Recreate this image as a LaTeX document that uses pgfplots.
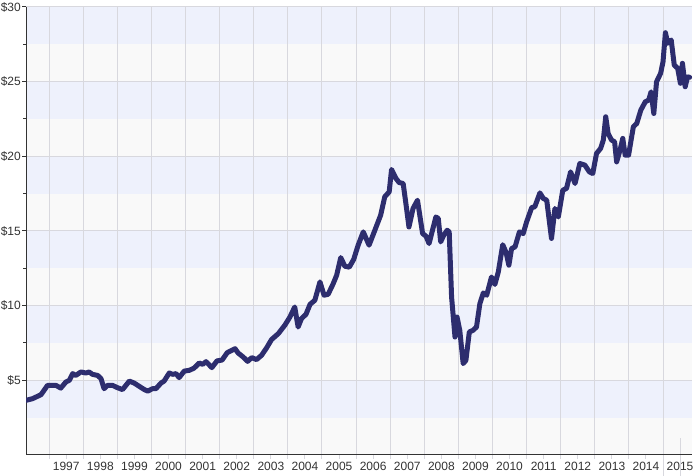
\documentclass[border=0pt]{standalone}
\usepackage{fontspec}
\setmainfont{Liberation Sans}
\usepackage{pgfplots}
\pgfplotsset{compat=1.18}
\definecolor{bandblue}{HTML}{EEF1FC}
\definecolor{bandgrey}{HTML}{F9F9F9}
\definecolor{gridgrey}{HTML}{D8D8DE}
\definecolor{navy}{HTML}{2D2D6E}
\definecolor{txt}{HTML}{333333}
\pgfplotstableread{
x y
1996.32 3.66
1996.51 3.77
1996.76 4.04
1996.85 4.33
1996.95 4.66
1997.20 4.66
1997.34 4.48
1997.49 4.89
1997.59 5.00
1997.69 5.45
1997.78 5.33
1997.93 5.56
1998.08 5.49
1998.17 5.56
1998.27 5.40
1998.42 5.33
1998.52 5.11
1998.61 4.44
1998.71 4.66
1998.86 4.66
1999.00 4.51
1999.15 4.38
1999.25 4.66
1999.35 4.95
1999.49 4.82
1999.64 4.60
1999.79 4.38
1999.89 4.28
2000.03 4.44
2000.13 4.44
2000.28 4.82
2000.37 4.95
2000.52 5.49
2000.62 5.40
2000.72 5.45
2000.81 5.18
2000.96 5.62
2001.11 5.67
2001.25 5.82
2001.40 6.16
2001.50 6.07
2001.60 6.25
2001.77 5.85
2001.92 6.30
2002.07 6.36
2002.22 6.85
2002.45 7.12
2002.54 6.83
2002.69 6.56
2002.82 6.27
2002.94 6.52
2003.08 6.39
2003.23 6.68
2003.38 7.19
2003.52 7.73
2003.72 8.13
2003.91 8.69
2004.06 9.24
2004.20 9.91
2004.30 8.57
2004.40 9.14
2004.53 9.42
2004.65 10.09
2004.79 10.36
2004.94 11.59
2005.06 10.70
2005.18 10.76
2005.33 11.48
2005.43 12.04
2005.55 13.22
2005.67 12.64
2005.80 12.58
2005.93 13.10
2006.06 14.05
2006.21 14.94
2006.38 14.05
2006.55 15.05
2006.72 16.06
2006.84 17.29
2006.97 17.62
2007.04 19.12
2007.17 18.52
2007.26 18.25
2007.38 18.18
2007.46 16.84
2007.55 15.27
2007.67 16.51
2007.80 17.06
2007.95 14.83
2008.05 14.65
2008.14 14.16
2008.24 15.05
2008.34 15.94
2008.41 15.84
2008.48 14.27
2008.57 14.72
2008.67 15.05
2008.73 14.94
2008.80 10.58
2008.90 7.90
2008.96 9.24
2009.04 8.35
2009.14 6.12
2009.22 6.34
2009.32 8.24
2009.43 8.35
2009.53 8.57
2009.63 10.14
2009.73 10.85
2009.83 10.70
2009.97 11.92
2010.07 11.42
2010.17 12.26
2010.30 14.08
2010.40 13.55
2010.48 12.71
2010.56 13.83
2010.66 13.93
2010.79 14.94
2010.90 14.83
2011.00 15.61
2011.15 16.57
2011.24 16.62
2011.39 17.55
2011.49 17.18
2011.59 17.06
2011.73 14.50
2011.83 16.51
2011.93 15.94
2012.06 17.73
2012.17 17.85
2012.29 18.96
2012.42 18.18
2012.56 19.52
2012.71 19.41
2012.84 18.96
2012.94 18.85
2013.05 20.19
2013.17 20.53
2013.25 21.09
2013.32 22.65
2013.39 21.53
2013.49 21.09
2013.58 20.97
2013.64 19.63
2013.74 20.42
2013.82 21.20
2013.89 20.08
2013.99 20.08
2014.13 21.98
2014.23 22.20
2014.35 23.10
2014.48 23.65
2014.58 23.77
2014.65 24.32
2014.73 22.87
2014.81 24.99
2014.93 25.56
2015.00 26.33
2015.07 28.28
2015.14 27.57
2015.24 27.79
2015.33 26.11
2015.43 25.89
2015.51 24.89
2015.57 26.23
2015.65 24.66
2015.72 25.32
2015.78 25.29
}\pricedata
\begin{document}
\begin{tikzpicture}
\begin{axis}[
  set layers,
  at={(26bp,21bp)}, anchor=south west,
  scale only axis, width=666bp, height=448bp,
  xmin=1996.32, xmax=2015.85, ymin=0, ymax=30,
  axis x line*=bottom, axis y line*=left,
  axis line style={-, draw=txt, line width=1bp},
  tick align=outside,
  major tick length=4bp, minor tick length=3bp,
  xtick={1997,1998,...,2015}, xticklabels={},
  x tick style={draw=gridgrey, line width=1bp, shorten <=-17bp, shorten >=-17bp},
  extra x ticks={1997.5,1998.5,1999.5,2000.5,2001.5,2002.5,2003.5,2004.5,2005.5,2006.5,2007.5,2008.5,2009.5,2010.5,2011.5,2012.5,2013.5,2014.5,2015.5},
  extra x tick labels={1997,1998,1999,2000,2001,2002,2003,2004,2005,2006,2007,2008,2009,2010,2011,2012,2013,2014,2015},
  extra x tick style={grid=none, tick style={draw=none}},
  ytick={5,10,...,30}, yticklabels={\$5,\$10,\$15,\$20,\$25,\$30},
  minor y tick num=1,
  y tick style={draw=txt, line width=1bp},
  yticklabel style={inner xsep=1bp},
  grid=major, major grid style={draw=gridgrey, line width=1bp},
  tick label style={font=\fontsize{12bp}{14bp}\selectfont, text=txt},
]
\begin{pgfonlayer}{axis background}
\fill[bandgrey] (axis cs:1996.32,0) rectangle (axis cs:2015.85,30);
\fill[bandblue] (axis cs:1996.32,27.5) rectangle (axis cs:2015.85,30);
\fill[bandblue] (axis cs:1996.32,22.5) rectangle (axis cs:2015.85,25);
\fill[bandblue] (axis cs:1996.32,17.5) rectangle (axis cs:2015.85,20);
\fill[bandblue] (axis cs:1996.32,12.5) rectangle (axis cs:2015.85,15);
\fill[bandblue] (axis cs:1996.32,7.5) rectangle (axis cs:2015.85,10);
\fill[bandblue] (axis cs:1996.32,2.5) rectangle (axis cs:2015.85,5);
\end{pgfonlayer}
\addplot[navy, line width=5bp, line join=round, line cap=round] table[x=x, y=y] {\pricedata};
\end{axis}
\pgfresetboundingbox
\useasboundingbox (0,0) rectangle (694bp,476bp);
\end{tikzpicture}
\end{document}
